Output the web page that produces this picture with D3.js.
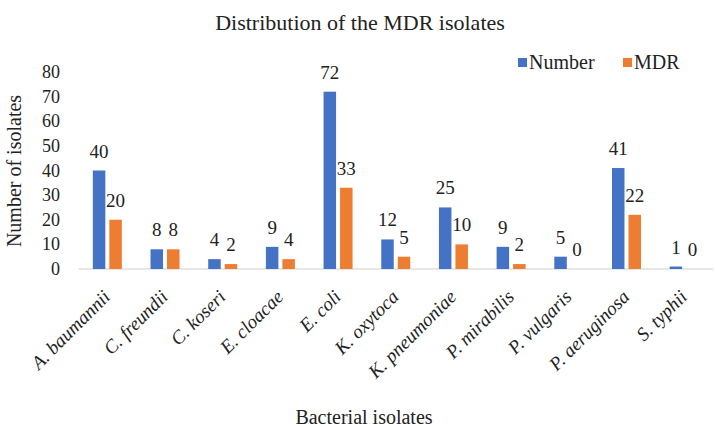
<!DOCTYPE html>
<html><head><meta charset="utf-8">
<script src="https://cdn.jsdelivr.net/npm/d3@7"></script>
<style>body{margin:0;background:#fff} svg text{font-family:"Liberation Serif","Times New Roman",Times,serif;fill:#222}</style>
</head><body>
<svg id="c" width="715" height="427"></svg>
<script>
const categories = ["A. baumannii","C. freundii","C. koseri","E. cloacae","E. coli","K. oxytoca","K. pneumoniae","P. mirabilis","P. vulgaris","P. aeruginosa","S. typhii"];
const numberValues = [40,8,4,9,72,12,25,9,5,41,1];
const mdrValues = [20,8,2,4,33,5,10,2,0,22,0];
const seriesNames = ["Number","MDR"];
const yTicks = [0,10,20,30,40,50,60,70,80];
const colors = ["#4472C4","#ED7D31"];

const svg = d3.select("#c");
const m = {left:78.5, right:713, top:72, bottom:269};
const x = d3.scaleBand().domain(categories).range([m.left, m.right]);
const y = d3.scaleLinear().domain([0,80]).range([m.bottom, m.top]);
const bw = 12.5, gap = 4;

svg.append("text").attr("x",360).attr("y",30).attr("text-anchor","middle")
  .style("font-size","22px").text("Distribution of the MDR isolates");

svg.append("g").selectAll("text").data(yTicks).join("text")
  .attr("x",60).attr("y",d=>y(d)+6).attr("text-anchor","end")
  .style("font-size","18px").text(d=>d);

svg.append("line").attr("x1",m.left).attr("x2",m.right).attr("y1",y(0)).attr("y2",y(0))
  .attr("stroke","#d0d0d0").attr("stroke-width",1.2);

const series = [numberValues, mdrValues];
series.forEach((vals,si)=>{
  const off = si===0 ? -bw-gap/2 : gap/2;
  const g = svg.append("g");
  g.selectAll("rect").data(categories).join("rect")
    .attr("x",c=>x(c)+x.bandwidth()/2+off)
    .attr("width",bw)
    .attr("y",(c,i)=>y(vals[i]))
    .attr("height",(c,i)=>y(0)-y(vals[i]))
    .attr("fill",colors[si]);
  g.selectAll("text").data(categories).join("text")
    .attr("x",c=>x(c)+x.bandwidth()/2+off+bw/2)
    .attr("y",(c,i)=>y(vals[i])-13)
    .attr("text-anchor","middle")
    .style("font-size","19px")
    .text((c,i)=>vals[i]);
});

svg.append("g").selectAll("text").data(categories).join("text")
  .attr("transform",c=>`translate(${x(c)+x.bandwidth()/2+4},${y(0)+29}) rotate(-45)`)
  .attr("text-anchor","end")
  .style("font-size","19px").style("font-style","italic")
  .text(c=>c);

svg.append("text").attr("x",364).attr("y",424).attr("text-anchor","middle")
  .style("font-size","20px").text("Bacterial isolates");
svg.append("text").attr("transform","translate(21,171) rotate(-90)").attr("text-anchor","middle")
  .style("font-size","20px").text("Number of isolates");

const lx = [518, 623];
seriesNames.forEach((n,i)=>{
  svg.append("rect").attr("x",lx[i]).attr("y",58).attr("width",9).attr("height",9).attr("fill",colors[i]);
  svg.append("text").attr("x",lx[i]+11).attr("y",69).style("font-size","20px").text(n);
});
</script>
</body></html>
